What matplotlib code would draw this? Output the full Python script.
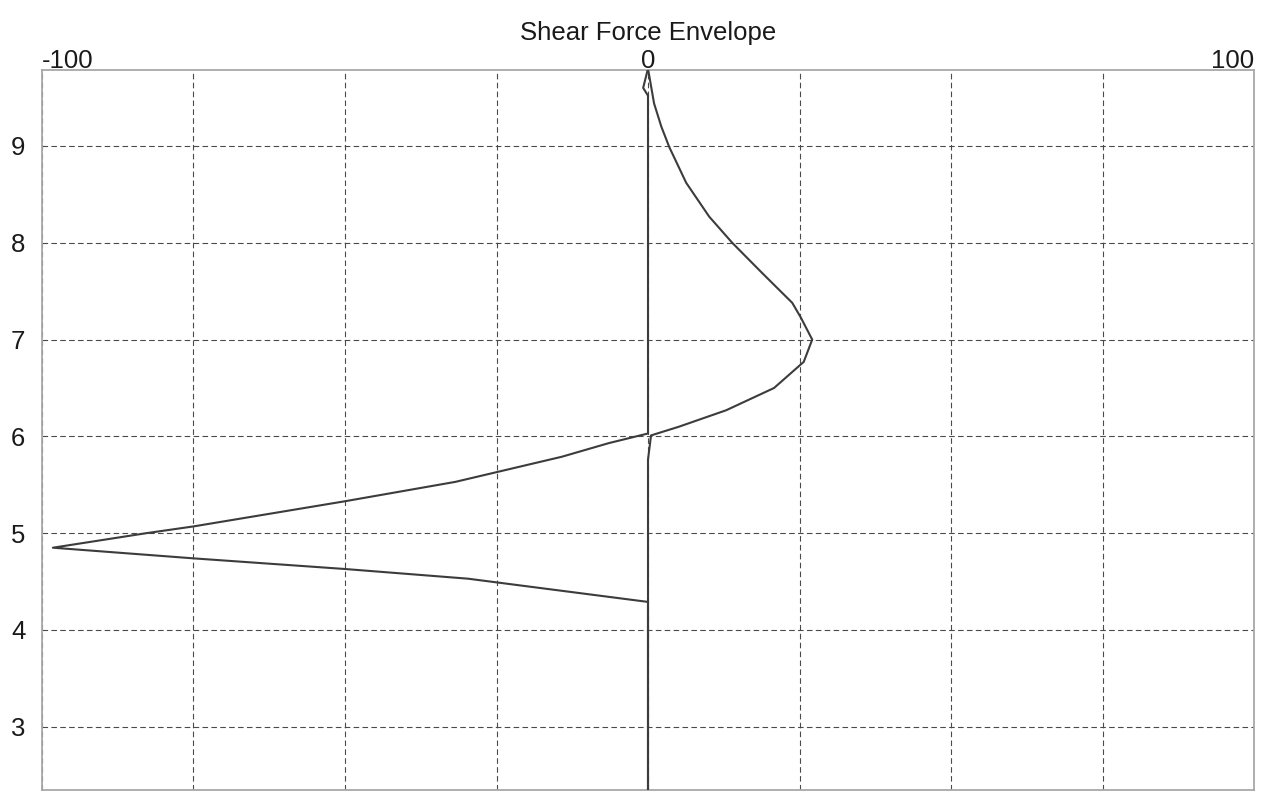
import matplotlib.pyplot as plt
import numpy as np

plt.rcParams['font.family'] = ['Liberation Sans', 'DejaVu Sans']

# positive side of the envelope (kN)
pos_x = [0, 1.0, 2.2, 3.5, 6.3, 10.1, 13.9, 18.8, 23.8, 25.2, 27.1, 25.7, 20.8, 12.9, 5.1, 0.5, 0, 0]
pos_y = [9.8, 9.44, 9.2, 8.99, 8.62, 8.27, 8.0, 7.69, 7.38, 7.23, 7.0, 6.77, 6.5, 6.27, 6.1, 6.01, 5.76, 2.0]

# negative side
neg_x = [0, -0.8, 0, 0, -6.5, -14.2, -31.8, -50.0, -75.0, -82.8, -98.2, -75.0, -50.0, -29.7, 0, 0]
neg_y = [9.8, 9.6, 9.52, 6.03, 5.93, 5.79, 5.53, 5.33, 5.07, 5.0, 4.85, 4.74, 4.63, 4.53, 4.29, 2.0]

x_ticks = np.arange(-100, 101, 25)
x_labels = ['-100', '', '', '', '0', '', '', '', '100']
y_ticks = [3, 4, 5, 6, 7, 8, 9]

fig = plt.figure(figsize=(12.68, 7.92), dpi=100)
ax = fig.add_axes([42 / 1268, 2 / 792, 1212 / 1268, 720 / 792])

ax.plot(pos_x, pos_y, color='#3c3c3c', lw=1.5, zorder=3)
ax.plot(neg_x, neg_y, color='#3c3c3c', lw=1.5, zorder=3)

ax.set_xlim(-100, 100)
ax.set_ylim(2.347, 9.785)
ax.xaxis.tick_top()
ax.set_xticks(x_ticks)
ax.set_xticklabels(x_labels)
ax.set_yticks(y_ticks)
ax.tick_params(axis='both', length=0, labelsize=18.5, colors='#1a1a1a')
ax.tick_params(axis='x', pad=-2)
ax.tick_params(axis='y', pad=12)
labs = ax.get_xticklabels()
labs[0].set_ha('left')
labs[-1].set_ha('right')

ax.grid(True, color='#4a4a4a', lw=0.8, linestyle=(0, (5, 3)))
for s in ax.spines.values():
    s.set_color('#a8a8a8')
    s.set_linewidth(1.3)

ax.set_title('Shear Force Envelope', fontsize=18.5, color='#1a1a1a', y=1.03)

fig.savefig('out.png', dpi=100)
